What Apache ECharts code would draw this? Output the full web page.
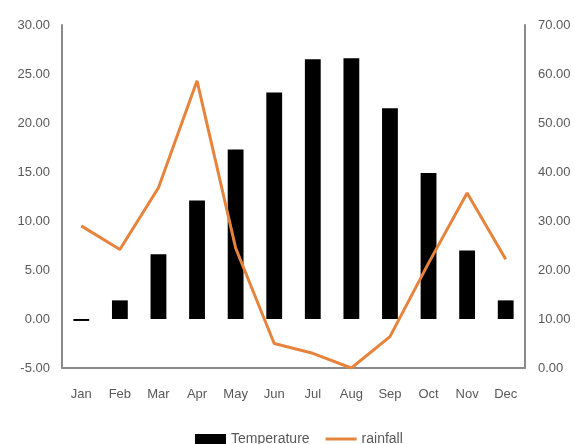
<!DOCTYPE html>
<html>
<head>
<meta charset="utf-8">
<script src="https://cdn.jsdelivr.net/npm/echarts@6/dist/echarts.min.js"></script>
<style>
  html, body { margin: 0; padding: 0; background: #fff; }
  #chart { width: 575px; height: 444px; }
</style>
</head>
<body>
<div id="chart"></div>
<script>
// Monthly climate: temperature bars (left axis) and rainfall line (right axis)
const months = ['Jan', 'Feb', 'Mar', 'Apr', 'May', 'Jun', 'Jul', 'Aug', 'Sep', 'Oct', 'Nov', 'Dec'];
const temperature = [-0.2, 1.9, 6.6, 12.1, 17.3, 23.1, 26.5, 26.6, 21.5, 14.9, 7.0, 1.9];
const rainfall = [29.0, 24.2, 36.8, 58.6, 24.5, 5.0, 3.0, 0.0, 6.4, 21.4, 35.7, 22.2];

const labelFont = { fontFamily: 'Liberation Sans', fontSize: 13, color: '#595959' };
const axisLineStyle = { show: true, lineStyle: { color: '#8a8a8a', width: 2 } };

// Plain horizontal stroke for the rainfall legend key (zero-length corner segments keep it thin)
const lineKey = 'path://M0,0 L0.01,0 M33,10 L32.99,10 M0,3.5 L33,3.5 L33,6.5 L0,6.5 Z';

const chart = echarts.init(document.getElementById('chart'));
chart.setOption({
  animation: false,
  backgroundColor: '#ffffff',
  grid: { left: 62, right: 50, top: 25, bottom: 76, containLabel: false },
  legend: {
    top: 432,
    left: 195,
    padding: 0,
    itemGap: 16,
    itemWidth: 31,
    itemHeight: 10,
    textStyle: { fontFamily: 'Liberation Sans', fontSize: 14, color: '#595959' },
    data: [
      { name: 'Temperature', icon: 'rect' },
      { name: 'rainfall', icon: lineKey, itemStyle: { color: '#E6843E', borderWidth: 0 } }
    ]
  },
  xAxis: {
    type: 'category',
    data: months,
    axisLine: { show: true, onZero: false, lineStyle: { color: '#8a8a8a', width: 2 } },
    axisTick: { show: false },
    axisLabel: Object.assign({ margin: 20 }, labelFont)
  },
  yAxis: [
    {
      type: 'value',
      min: -5,
      max: 30,
      interval: 5,
      position: 'left',
      axisLine: axisLineStyle,
      axisTick: { show: false },
      splitLine: { show: false },
      axisLabel: Object.assign({ margin: 12, formatter: v => v.toFixed(2) }, labelFont)
    },
    {
      type: 'value',
      min: 0,
      max: 70,
      interval: 10,
      position: 'right',
      axisLine: axisLineStyle,
      axisTick: { show: false },
      splitLine: { show: false },
      axisLabel: Object.assign({ margin: 13, formatter: v => v.toFixed(2) }, labelFont)
    }
  ],
  series: [
    {
      name: 'Temperature',
      type: 'bar',
      yAxisIndex: 0,
      data: temperature,
      barWidth: '41%',
      itemStyle: { color: '#000000' }
    },
    {
      name: 'rainfall',
      type: 'line',
      yAxisIndex: 1,
      data: rainfall,
      symbol: 'none',
      lineStyle: { color: '#E6843E', width: 3 },
      itemStyle: { color: '#E6843E' }
    }
  ]
});
</script>
</body>
</html>
